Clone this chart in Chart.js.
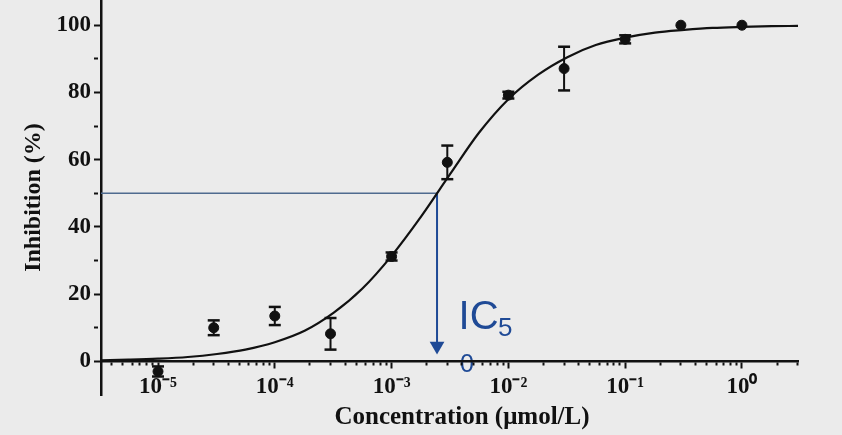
<!DOCTYPE html>
<html>
<head>
<meta charset="utf-8">
<script src="https://cdn.jsdelivr.net/npm/chart.js@4.4.1/dist/chart.umd.min.js"></script>
<style>
  html, body { margin: 0; padding: 0; background: #ebebeb; }
  #wrap { width: 842px; height: 435px; }
</style>
</head>
<body>
<div id="wrap"><canvas id="ic50Chart" width="842" height="435"></canvas></div>
<script>
// measured points (mean and error bar half-length)
const concentrations = [1e-5, 3e-5, 1e-4, 3e-4, 1e-3, 3e-3, 1e-2, 3e-2, 1e-1, 3e-1, 1];
const inhibition = [-3, 10, 13.5, 8.2, 31.2, 59.2, 79.2, 87.1, 95.8, 100, 100];
const inhibitionErr = [1.5, 2.2, 2.7, 4.7, 1.2, 5, 1, 6.5, 1.2, 0, 0];

// fitted curve
const fitConc = [3.25e-6, 5.6e-6, 1e-5, 1.8e-5, 3.2e-5, 5.6e-5, 1e-4, 1.8e-4, 3.2e-4, 5.6e-4,
  1e-3, 1.8e-3, 3.2e-3, 5.6e-3, 1e-2, 1.8e-2, 3.2e-2, 5.6e-2, 0.1, 0.18, 0.32, 0.56, 1, 1.8, 3.02];
const fitInhibition = [0.3, 0.5, 0.8, 1.3, 2.2, 3.5, 5.7, 9.1, 14.5, 21.6,
  31.4, 43.2, 55.9, 68, 78, 85.3, 90.5, 94.1, 96.3, 97.8, 98.6, 99.2, 99.5, 99.7, 99.8];

// IC50 guide
const ic50 = 2.45e-3;
const halfLevel = 50;
const arrowEnd = 4.6;

// axes
const xMin = 3.25e-6, xMax = 3.02;
const yMin = -10, yMax = 107.5;
const decadeTicks = [1e-5, 1e-4, 1e-3, 1e-2, 1e-1, 1];
const decadeLabels = ['10⁻⁵', '10⁻⁴', '10⁻³', '10⁻²', '10⁻¹', '10⁰'];
const yTicks = [0, 10, 20, 30, 40, 50, 60, 70, 80, 90, 100];

const ink = '#111111';
const blue = '#1f4a96';
const serif = "'Liberation Serif', 'Times New Roman', serif";

const isDecade = v => decadeTicks.some(d => Math.abs(v / d - 1) < 1e-9);

const pointData = concentrations.map((c, i) => ({ x: c, y: inhibition[i] }));
const fitData = fitConc.map((c, i) => ({ x: c, y: fitInhibition[i] }));
const errData = [];
concentrations.forEach((c, i) => {
  if (!inhibitionErr[i]) return;
  errData.push({ x: c, y: inhibition[i] - inhibitionErr[i] });
  errData.push({ x: c, y: inhibition[i] + inhibitionErr[i] });
  errData.push({ x: c, y: null });
});

const ic50Label = {
  id: 'ic50Label',
  beforeDraw(chart) {
    const { ctx, scales: { x, y } } = chart;
    const px = x.getPixelForValue(ic50);
    const py = y.getPixelForValue(0);
    ctx.save();
    ctx.fillStyle = blue;
    ctx.textBaseline = 'alphabetic';
    ctx.font = "40px 'Liberation Sans', Arial, sans-serif";
    ctx.fillText('IC', px + 21.5, py - 32);
    ctx.font = "26px 'Liberation Sans', Arial, sans-serif";
    ctx.fillText('5', px + 61, py - 25);
    ctx.font = "25px 'Liberation Sans', Arial, sans-serif";
    ctx.fillText('0', px + 23, py + 11);
    ctx.restore();
  }
};

new Chart(document.getElementById('ic50Chart'), {
  type: 'line',
  data: {
    datasets: [
      {
        label: 'Measured',
        data: pointData,
        showLine: false,
        pointRadius: 5,
        pointBackgroundColor: ink,
        pointBorderColor: ink,
        order: 0
      },
      {
        label: 'Error',
        data: errData,
        borderColor: ink,
        borderWidth: 2,
        pointStyle: 'line',
        pointRadius: 6,
        pointBorderWidth: 2.5,
        pointBorderColor: ink,
        spanGaps: false,
        order: 1
      },
      {
        label: 'Fit',
        data: fitData,
        borderColor: ink,
        borderWidth: 2.2,
        pointRadius: 0,
        cubicInterpolationMode: 'monotone',
        order: 2
      },
      {
        label: 'IC50 level',
        data: [{ x: xMin, y: halfLevel }, { x: ic50, y: halfLevel }],
        borderColor: '#4f6b8f',
        borderWidth: 1.5,
        pointRadius: 0,
        order: 3
      },
      {
        label: 'IC50 arrow',
        data: [{ x: ic50, y: halfLevel }, { x: ic50, y: arrowEnd }],
        borderColor: blue,
        borderWidth: 2,
        pointRadius: [0, 8.5],
        pointStyle: 'triangle',
        pointRotation: 180,
        pointBackgroundColor: blue,
        pointBorderColor: blue,
        pointBorderWidth: 0,
        order: 4
      }
    ]
  },
  options: {
    responsive: false,
    animation: false,
    devicePixelRatio: 1,
    layout: { autoPadding: false, padding: { left: 0, top: 0, right: 44, bottom: 0 } },
    plugins: {
      legend: { display: false },
      tooltip: { enabled: false },
      title: {
        display: true,
        position: 'bottom',
        fullSize: false,
        text: '\u2003Concentration (μmol/L)',
        color: ink,
        font: { family: serif, size: 25, weight: 'bold' },
        padding: { top: 8, bottom: 2 }
      }
    },
    scales: {
      x: {
        type: 'logarithmic',
        min: xMin,
        max: xMax,
        position: { y: 0 },
        afterBuildTicks: s => {
          const vals = [];
          [1e-6].concat(decadeTicks).forEach(d => {
            for (let m = 1; m <= 9; m++) {
              const v = m * d;
              if (v >= xMin && v <= xMax * 1.0001) vals.push({ value: v });
            }
          });
          s.ticks = vals;
        },
        afterFit: s => { s.height = 0; s.paddingLeft = 0; s.paddingRight = 0; },
        border: { color: ink, width: 2.5 },
        grid: {
          drawOnChartArea: false,
          tickLength: 6,
          tickWidth: 2,
          tickColor: ink,
          tickBorderDash: c => (c.tick && isDecade(c.tick.value)) ? [] : [3, 20]
        },
        ticks: {
          autoSkip: false,
          maxRotation: 0,
          padding: 6,
          color: ink,
          font: { family: serif, size: 23, weight: 'bold' },
          callback: v => {
            const i = decadeTicks.findIndex(d => Math.abs(v / d - 1) < 1e-9);
            return i >= 0 ? decadeLabels[i] : '';
          }
        }
      },
      y: {
        min: yMin,
        max: yMax,
        afterBuildTicks: s => { s.ticks = yTicks.map(v => ({ value: v })); },
        afterFit: s => { s.width = 101; s.paddingTop = 0; s.paddingBottom = 0; },
        border: { color: ink, width: 2.5 },
        grid: {
          drawOnChartArea: false,
          tickLength: 7,
          tickWidth: 2,
          tickColor: ink,
          tickBorderDash: c => (c.tick && c.tick.value % 20 === 0) ? [] : [4, 20]
        },
        ticks: {
          padding: 3,
          color: ink,
          font: { family: serif, size: 23, weight: 'bold' },
          callback: v => (v % 20 === 0 ? v : '')
        },
        title: {
          display: true,
          text: 'Inhibition (%)',
          color: ink,
          font: { family: serif, size: 24, weight: 'bold' },
          padding: { top: 19, bottom: 0 }
        }
      }
    }
  },
  plugins: [ic50Label]
});
</script>
</body>
</html>
